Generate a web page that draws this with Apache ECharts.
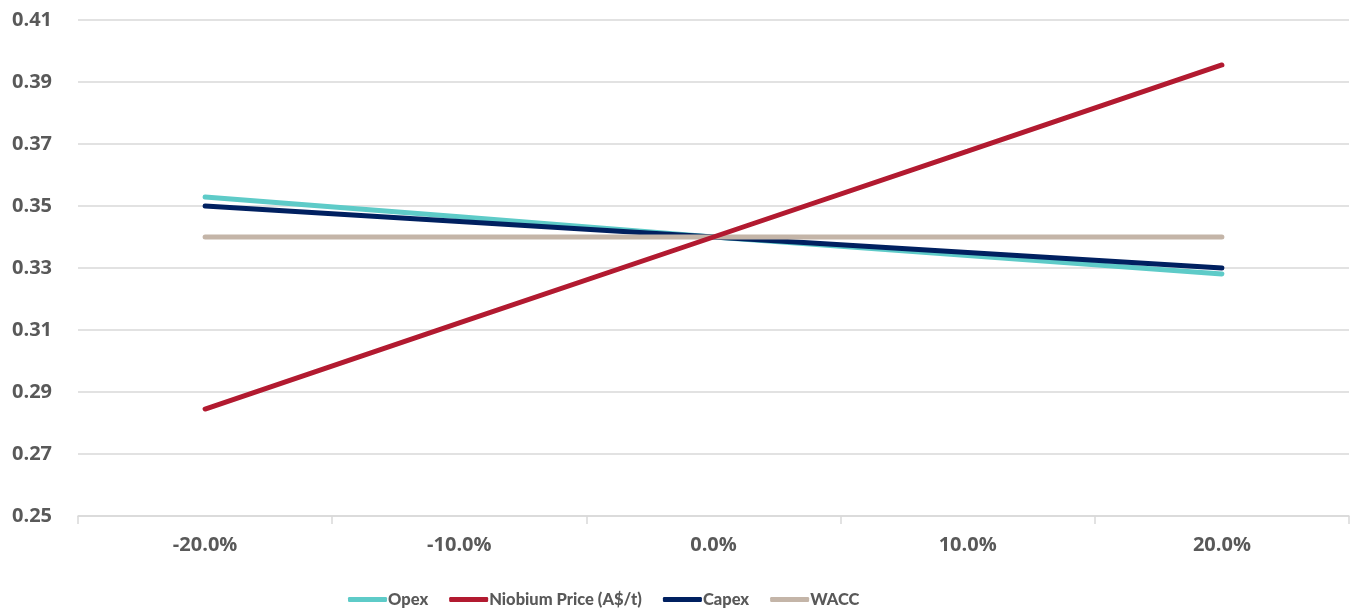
<!DOCTYPE html>
<html><head><meta charset="utf-8">
<script src="https://cdn.jsdelivr.net/npm/echarts@6/dist/echarts.min.js"></script>
<style>html,body{margin:0;padding:0;background:#fff}#c{width:1357px;height:609px}</style>
</head><body><div id="c"></div>
<script>
const categories = ['-20.0%', '-10.0%', '0.0%', '10.0%', '20.0%'];
const opex = [0.3529, 0.3465, 0.3400, 0.3340, 0.3281];
const niobium = [0.2845, 0.3123, 0.3400, 0.3677, 0.3955];
const capex = [0.3500, 0.3450, 0.3400, 0.3350, 0.3300];
const wacc = [0.3400, 0.3400, 0.3400, 0.3400, 0.3400];
const seriesNames = ['Opex', 'Niobium Price (A$/t)', 'Capex', 'WACC'];
const colors = ['#5ECBC8', '#B21A30', '#002060', '#C4B5A8'];
const yTicks = { min: 0.25, max: 0.41, interval: 0.02 };

const axisFont = '"Open Sans", Lato, sans-serif';
const legendFont = 'Lato, "Open Sans", sans-serif';
const chart = echarts.init(document.getElementById('c'));
const mk = (name, data, i) => ({
  name, type: 'line', data, symbol: 'none', smooth: false,
  lineStyle: { width: 5, color: colors[i], cap: 'round' },
  itemStyle: { color: colors[i] }
});
chart.setOption({
  animation: false,
  grid: { left: 78, right: 8, top: 20, bottom: 93 },
  legend: {
    top: 586, left: 343, itemWidth: 39, itemHeight: 5, itemGap: 21,
    icon: 'roundRect',
    textStyle: { color: '#595959', fontSize: 16.5, fontWeight: 900, fontFamily: legendFont, padding: [0, 0, 0, -4] },
    data: seriesNames
  },
  xAxis: {
    type: 'category', data: categories, boundaryGap: true,
    axisLine: { lineStyle: { color: '#d9d9d9', width: 1.5 } },
    axisTick: { show: true, length: 8, lineStyle: { color: '#d9d9d9', width: 1.5 } },
    axisLabel: { color: '#595959', fontSize: 20, fontWeight: 'bold', fontFamily: axisFont, margin: 19 }
  },
  yAxis: {
    type: 'value', min: yTicks.min, max: yTicks.max, interval: yTicks.interval,
    axisLine: { show: false }, axisTick: { show: false },
    splitLine: { lineStyle: { color: '#d9d9d9', width: 1.5 } },
    axisLabel: { color: '#595959', fontSize: 20, fontWeight: 'bold', fontFamily: axisFont, margin: 26,
      formatter: v => v.toFixed(2) }
  },
  series: [
    mk(seriesNames[0], opex, 0),
    mk(seriesNames[2], capex, 2),
    mk(seriesNames[3], wacc, 3),
    mk(seriesNames[1], niobium, 1)
  ]
});
</script></body></html>
